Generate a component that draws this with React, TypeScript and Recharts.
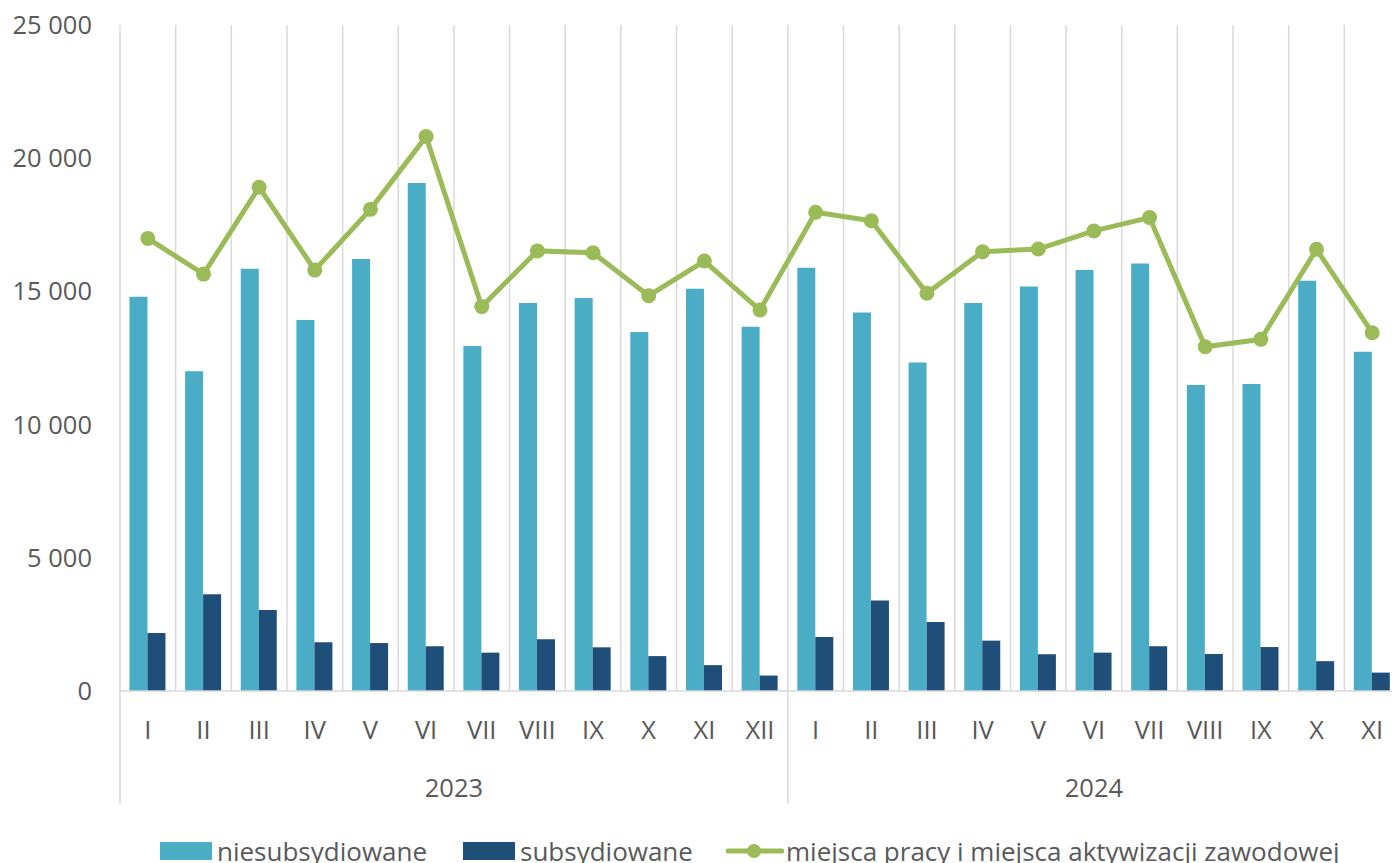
import { ComposedChart, Bar, Line, XAxis, YAxis, CartesianGrid } from 'recharts';

const months2023 = ['I', 'II', 'III', 'IV', 'V', 'VI', 'VII', 'VIII', 'IX', 'X', 'XI', 'XII'];
const months2024 = ['I', 'II', 'III', 'IV', 'V', 'VI', 'VII', 'VIII', 'IX', 'X', 'XI'];

const niesub2023 = [14800, 12000, 15850, 13930, 16220, 19070, 12950, 14560, 14750, 13480, 15100, 13670];
const niesub2024 = [15890, 14210, 12330, 14560, 15180, 15800, 16050, 11490, 11520, 15400, 12730];

const sub2023 = [2180, 3630, 3040, 1830, 1800, 1680, 1440, 1940, 1640, 1310, 970, 580];
const sub2024 = [2030, 3400, 2590, 1890, 1380, 1440, 1680, 1390, 1650, 1120, 690];

const miejsca2023 = [16990, 15650, 18910, 15800, 18080, 20810, 14430, 16520, 16450, 14840, 16140, 14300];
const miejsca2024 = [17970, 17650, 14930, 16490, 16590, 17270, 17770, 12920, 13200, 16580, 13450];

const yTicks = [0, 5000, 10000, 15000, 20000, 25000];

const years = [
  { year: '2023', months: months2023, niesub: niesub2023, sub: sub2023, miejsca: miejsca2023 },
  { year: '2024', months: months2024, niesub: niesub2024, sub: sub2024, miejsca: miejsca2024 },
];

const data = years.flatMap((y) =>
  y.months.map((m, i) => ({
    key: `${y.year}-${m}`,
    month: m,
    year: y.year,
    first: i === 0,
    count: y.months.length,
    niesub: y.niesub[i],
    sub: y.sub[i],
    miejsca: y.miejsca[i],
  }))
);

const CHART_W = 1420;
const CHART_H = 863;
const LEFT = 120;
const RIGHT = 20;
const BAND = (CHART_W - LEFT - RIGHT) / data.length;

const FONT = '"Open Sans", Lato, sans-serif';
const FS = 25.5;
const TEXT = '#595959';
const GRID = '#d9d9d9';
const LIGHT = '#4BACC6';
const DARK = '#1F4E79';
const GREEN = '#9BBB59';

const fmt = (v: number) => String(v).replace(/\B(?=(\d{3})+(?!\d))/g, ' ');

function MonthTick(props: any) {
  const { x, y, payload } = props;
  const row = data[payload.index];
  if (!row) return null;
  const start = x - BAND / 2;
  return (
    <g>
      <text x={x} y={y + 38} textAnchor="middle" dominantBaseline="central" fontSize={FS} fill={TEXT} fontFamily={FONT}>
        {row.month}
      </text>
      {row.first && (
        <>
          <line x1={start} x2={start} y1={y} y2={y + 113} stroke={GRID} strokeWidth={1.5} />
          <text
            x={start + (row.count * BAND) / 2}
            y={y + 96}
            textAnchor="middle"
            dominantBaseline="central"
            fontSize={FS}
            fill={TEXT}
            fontFamily={FONT}
          >
            {row.year}
          </text>
        </>
      )}
    </g>
  );
}

const legendItems = [
  { name: 'niesubsydiowane', color: LIGHT, type: 'bar', left: 160 },
  { name: 'subsydiowane', color: DARK, type: 'bar', left: 463 },
  { name: 'miejsca pracy i miejsca aktywizacji zawodowej', color: GREEN, type: 'line', left: 726 },
];

export default function App() {
  return (
    <div
      style={{
        position: 'absolute',
        left: 0,
        top: 0,
        width: 1392,
        height: 863,
        overflow: 'hidden',
        background: '#fff',
        fontFamily: FONT,
      }}
    >
      <ComposedChart
        width={CHART_W}
        height={CHART_H}
        data={data}
        margin={{ top: 25, right: RIGHT, left: 0, bottom: 0 }}
        barCategoryGap="17%"
        barGap={0}
      >
        <CartesianGrid
          horizontal={false}
          stroke={GRID}
          strokeWidth={1.5}
          verticalCoordinatesGenerator={({ offset }: any) =>
            data.map((_, i) => offset.left + (i * offset.width) / data.length).concat(offset.left + offset.width)
          }
        />
        <XAxis
          dataKey="key"
          height={172}
          interval={0}
          tickLine={false}
          tickSize={0}
          tickMargin={0}
          axisLine={{ stroke: GRID, strokeWidth: 1.5 }}
          tick={<MonthTick />}
        />
        <YAxis
          width={LEFT}
          domain={[0, 25000]}
          ticks={yTicks}
          tickFormatter={fmt}
          axisLine={false}
          tickLine={false}
          tickSize={0}
          tickMargin={28}
          tick={{ fontSize: FS, fill: TEXT, fontFamily: FONT }}
        />
        <Bar dataKey="niesub" name="niesubsydiowane" fill={LIGHT} isAnimationActive={false} />
        <Bar dataKey="sub" name="subsydiowane" fill={DARK} isAnimationActive={false} />
        <Line
          type="linear"
          dataKey="miejsca"
          name="miejsca pracy i miejsca aktywizacji zawodowej"
          stroke={GREEN}
          strokeWidth={5}
          dot={{ r: 7.5, fill: GREEN, stroke: 'none' }}
          activeDot={false}
          isAnimationActive={false}
        />
      </ComposedChart>
      {legendItems.map((item) => (
        <div
          key={item.name}
          style={{
            position: 'absolute',
            left: item.left,
            top: 836,
            display: 'flex',
            alignItems: 'center',
            height: 30,
            fontSize: 26,
            lineHeight: '30px',
            color: TEXT,
            whiteSpace: 'nowrap',
          }}
        >
          {item.type === 'bar' ? (
            <div style={{ width: 52, height: 18, background: item.color, marginRight: 5 }} />
          ) : (
            <svg width={58} height={18} style={{ marginRight: 2 }}>
              <line x1={2} x2={56} y1={9} y2={9} stroke={item.color} strokeWidth={5} strokeLinecap="round" />
              <circle cx={28} cy={9} r={7} fill={item.color} />
            </svg>
          )}
          <span>{item.name}</span>
        </div>
      ))}
    </div>
  );
}
